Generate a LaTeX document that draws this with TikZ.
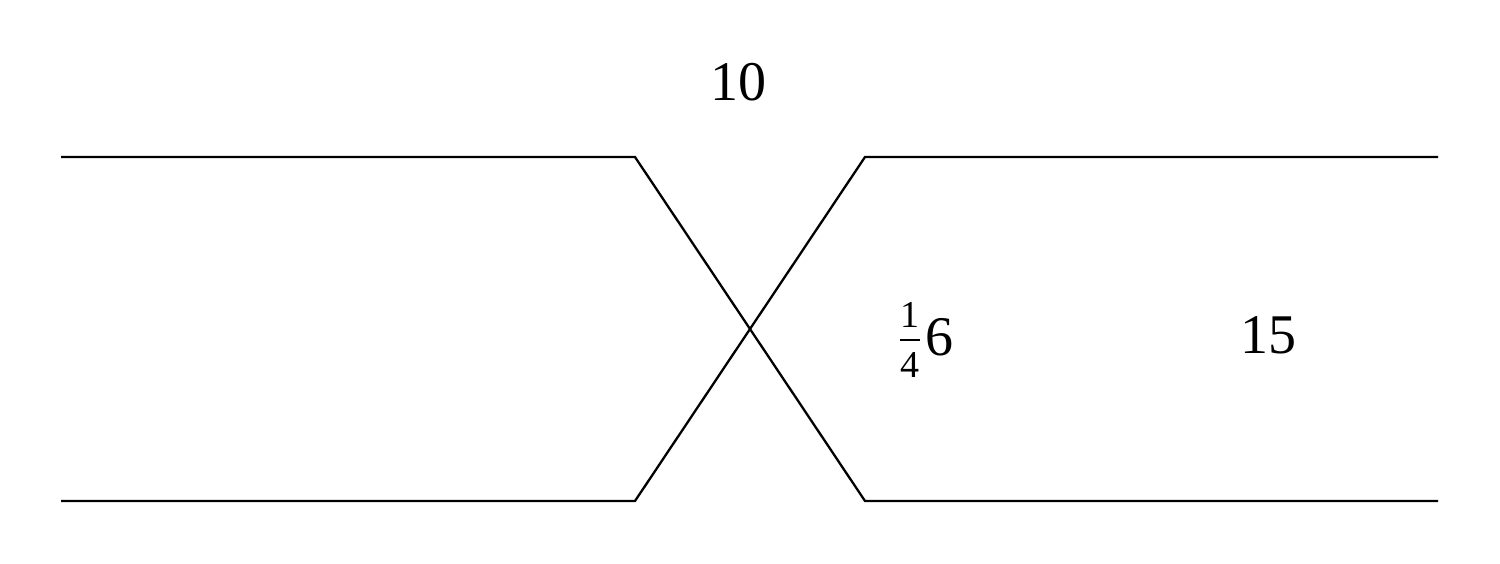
\documentclass[tikz,border=0pt]{standalone}
\usepackage{fontspec}
\setmainfont{Liberation Serif}
\begin{document}
\begin{tikzpicture}[x=1pt,y=-1pt,
  wire/.style={line width=2.3pt},
  big/.style={font=\fontsize{56}{60}\selectfont, inner sep=0pt},
  small/.style={font=\fontsize{38}{40}\selectfont, inner sep=0pt}]
\useasboundingbox (0,0) rectangle (1500,564);
\coordinate (a1) at (61,157);
\coordinate (a2) at (635,157);
\coordinate (a3) at (865,501);
\coordinate (a4) at (1438,501);
\coordinate (b1) at (61,501);
\coordinate (b2) at (635,501);
\coordinate (b3) at (865,157);
\coordinate (b4) at (1438,157);
\draw[wire] (a1) -- (a2) -- (a3) -- (a4);
\draw[wire] (b1) -- (b2) -- (b3) -- (b4);
\node[big] (ten) at (738,82) {10};
\node[big] (fifteen) at (1268,335) {15};
\node[small] (num) at (910,315) {1};
\node[small] (den) at (910,365) {4};
\coordinate (barl) at (900,340);
\coordinate (barr) at (920,340);
\draw[line width=2.3pt] (barl) -- (barr);
\node[big] (six) at (939,337) {6};
\end{tikzpicture}
\end{document}
